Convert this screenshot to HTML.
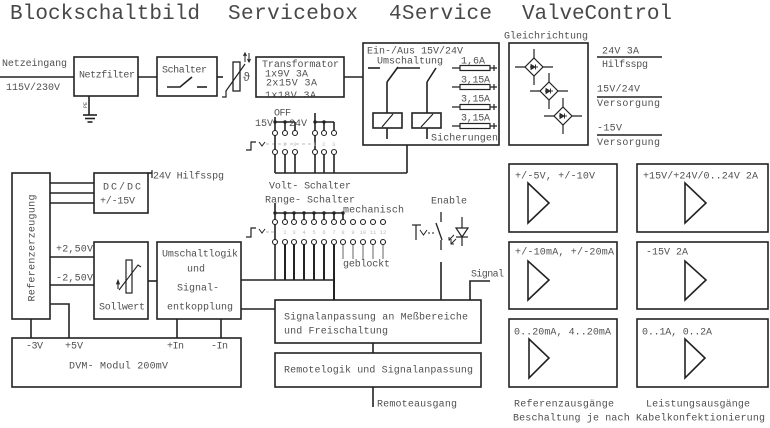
<!DOCTYPE html>
<html><head><meta charset="utf-8"><style>
html,body{margin:0;padding:0;background:#fff;width:770px;height:428px;overflow:hidden}
svg{display:block}
text{font-family:"Liberation Mono",monospace;font-size:10px;fill:#505050}
.t{font-size:21px;fill:#484848}
.f{font-size:5.5px;fill:#bbb}
</style></head><body>
<svg width="770" height="428" viewBox="0 0 770 428" xmlns="http://www.w3.org/2000/svg">
<defs><clipPath id="cl"><rect x="256" y="57" width="88" height="39.5"/></clipPath></defs>

<!-- Title -->
<text class="t" x="10" y="19" textLength="190">Blockschaltbild</text>
<text class="t" x="228" y="19" textLength="130">Servicebox</text>
<text class="t" x="389" y="19" textLength="103">4Service</text>
<text class="t" x="522" y="19" textLength="150">ValveControl</text>

<g stroke="#222" stroke-width="1.6" fill="none">
<!-- top chain -->
<line x1="0" y1="77" x2="74" y2="77"/>
<rect x="74" y="57" width="64" height="39"/>
<line x1="89" y1="96" x2="89" y2="115"/>
<line x1="83" y1="115" x2="97" y2="115"/>
<line x1="85" y1="118.5" x2="95" y2="118.5"/>
<line x1="87.5" y1="122" x2="92.5" y2="122"/>
<line x1="138" y1="77" x2="157" y2="77"/>
<rect x="157" y="57" width="60" height="39"/>
<polyline points="167,87 180,87 192,77"/>
<line x1="197" y1="87" x2="207" y2="87"/>
<line x1="217" y1="77" x2="223" y2="77"/>
<!-- varistor -->
<rect x="233" y="62" width="7" height="29" stroke-width="1.3"/>
<polyline points="222,97 226,97 226,91 245,64" stroke-width="1.2"/>
<line x1="245" y1="62" x2="245" y2="53" stroke-width="1"/>
<polyline points="243.5,56 245,53 246.5,56" stroke-width="1"/>
<line x1="249" y1="53" x2="249" y2="62" stroke-width="1"/>
<polyline points="247.5,59 249,62 250.5,59" stroke-width="1"/>
<!-- transformer -->
<rect x="256" y="57" width="88" height="40"/>
<line x1="344" y1="77" x2="363" y2="77"/>
<!-- Ein/Aus box -->
<rect x="363" y="43" width="136" height="102"/>
<line x1="368" y1="68" x2="380" y2="68"/>
<line x1="387" y1="82" x2="398" y2="67"/>
<line x1="397" y1="68" x2="420" y2="68"/>
<line x1="427" y1="82" x2="436" y2="68"/>
<line x1="387" y1="82" x2="387" y2="113"/>
<line x1="387" y1="128" x2="387" y2="139"/>
<line x1="427" y1="82" x2="427" y2="113"/>
<line x1="427" y1="128" x2="427" y2="139"/>
<rect x="373" y="113" width="29" height="15"/>
<rect x="412" y="113" width="29" height="15"/>
<line x1="382" y1="127" x2="393" y2="114" stroke-width="1.2"/>
<line x1="421" y1="127" x2="433" y2="114" stroke-width="1.2"/>
<!-- fuses -->
<g stroke-width="1.2">
<line x1="452" y1="68" x2="497" y2="68"/><rect x="460" y="65.5" width="30" height="5" fill="#fff"/><line x1="494" y1="65" x2="494" y2="71"/>
<line x1="452" y1="87" x2="497" y2="87"/><rect x="460" y="84.5" width="30" height="5" fill="#fff"/><line x1="494" y1="84" x2="494" y2="90"/>
<line x1="452" y1="107" x2="497" y2="107"/><rect x="460" y="104.5" width="30" height="5" fill="#fff"/><line x1="494" y1="104" x2="494" y2="110"/>
<line x1="452" y1="126" x2="497" y2="126"/><rect x="460" y="123.5" width="30" height="5" fill="#fff"/><line x1="494" y1="123" x2="494" y2="129"/>
</g>
<line x1="407" y1="145" x2="407" y2="173"/>
<line x1="275" y1="173" x2="407" y2="173"/>
<!-- Gleichrichtung -->
<rect x="509" y="43" width="79" height="102"/>
<g stroke-width="1.2">
<line x1="515" y1="67" x2="553" y2="67"/><line x1="534" y1="49" x2="534" y2="85"/>
<polygon points="534,58 543,67 534,76 525,67" fill="#fff"/>
<line x1="530" y1="91" x2="568" y2="91"/><line x1="549" y1="73" x2="549" y2="109"/>
<polygon points="549,82 558,91 549,100 540,91" fill="#fff"/>
<line x1="544" y1="116" x2="582" y2="116"/><line x1="563" y1="98" x2="563" y2="134"/>
<polygon points="563,107 572,116 563,125 554,116" fill="#fff"/>
</g>
<g stroke-width="0.9">
<line x1="530" y1="67" x2="538" y2="67"/><polygon points="531,64.5 531,69.5 535,67" fill="#333"/><line x1="535.5" y1="64.5" x2="535.5" y2="69.5"/>
<line x1="545" y1="91" x2="553" y2="91"/><polygon points="546,88.5 546,93.5 550,91" fill="#333"/><line x1="550.5" y1="88.5" x2="550.5" y2="93.5"/>
<line x1="559" y1="116" x2="567" y2="116"/><polygon points="560,113.5 560,118.5 564,116" fill="#333"/><line x1="564.5" y1="113.5" x2="564.5" y2="118.5"/>
</g>
<line x1="597" y1="57" x2="662" y2="57"/>
<line x1="597" y1="97" x2="662" y2="97"/>
<line x1="597" y1="135" x2="662" y2="135"/>

<!-- left middle -->
<rect x="12" y="173" width="38" height="146"/>
<rect x="94" y="173" width="54" height="40"/>
<line x1="50" y1="183" x2="94" y2="183"/>
<line x1="50" y1="193" x2="94" y2="193"/>
<line x1="50" y1="203" x2="94" y2="203"/>
<line x1="148" y1="173" x2="152" y2="173"/>
<line x1="152" y1="170" x2="152" y2="178" stroke-width="1.2"/>
<rect x="94" y="242" width="54" height="77"/>
<line x1="50" y1="257" x2="94" y2="257"/>
<line x1="50" y1="285" x2="94" y2="285"/>
<rect x="126" y="260" width="6" height="33" stroke-width="1.2"/>
<polyline points="119,290 138,265 141,267" stroke-width="1.1"/>
<line x1="118" y1="289" x2="118" y2="282" stroke-width="1.1"/>
<polygon points="116.5,284 118,280 119.5,284" fill="#333" stroke-width="0.8"/>
<rect x="157" y="242" width="84" height="77"/>
<line x1="148" y1="281" x2="157" y2="281"/>
<line x1="241" y1="280" x2="334" y2="280"/>
<line x1="241" y1="309" x2="275" y2="309"/>
<line x1="31" y1="319" x2="31" y2="338"/>
<polyline points="50,304 69,304 69,338"/>
<line x1="177" y1="319" x2="177" y2="338"/>
<line x1="221" y1="319" x2="221" y2="338"/>
<rect x="12" y="338" width="229" height="49"/>

<!-- Volt switch -->
<polyline points="246,150 251,150 251,142 256,142" stroke-width="1.2"/>
<polyline points="259,142 262,146 265,142" stroke-width="1"/>
<line x1="266" y1="144" x2="314" y2="144" stroke="#bbb" stroke-width="1" stroke-dasharray="3,3"/>
<line x1="275" y1="117" x2="275" y2="173"/>
<line x1="315" y1="113" x2="315" y2="173"/>
<line x1="275" y1="122" x2="295" y2="122"/>
<line x1="315" y1="122" x2="334" y2="122"/>
<line x1="285" y1="122" x2="285" y2="131"/>
<line x1="295" y1="122" x2="295" y2="131"/>
<line x1="324" y1="122" x2="324" y2="131"/>
<line x1="334" y1="122" x2="334" y2="131"/>
<line x1="285" y1="154" x2="285" y2="173"/>
<line x1="295" y1="154" x2="295" y2="173"/>
<line x1="324" y1="154" x2="324" y2="173"/>
<line x1="334" y1="154" x2="334" y2="173"/>
<g stroke-width="1.1" fill="#fff">
<circle cx="275" cy="133" r="2.5"/><circle cx="285" cy="133" r="2.5"/><circle cx="295" cy="133" r="2.5"/>
<circle cx="315" cy="133" r="2.5"/><circle cx="324" cy="133" r="2.5"/><circle cx="334" cy="133" r="2.5"/>
<circle cx="275" cy="152" r="2.5"/><circle cx="285" cy="152" r="2.5"/><circle cx="295" cy="152" r="2.5"/>
<circle cx="315" cy="152" r="2.5"/><circle cx="324" cy="152" r="2.5"/><circle cx="334" cy="152" r="2.5"/>
</g>
<g fill="#222" stroke="none">
<circle cx="275" cy="122" r="1.7"/><circle cx="285" cy="122" r="1.7"/>
<circle cx="315" cy="122" r="1.7"/><circle cx="324" cy="122" r="1.7"/>
</g>

<!-- Range switch -->
<polyline points="246,237 251,237 251,228 256,228" stroke-width="1.2"/>
<polyline points="259,229 262,233 265,229" stroke-width="1"/>
<line x1="266" y1="232" x2="274" y2="232" stroke="#bbb" stroke-width="1" stroke-dasharray="3,2"/>
<line x1="275" y1="203" x2="275" y2="280"/>
<line x1="275" y1="213" x2="343" y2="213"/>
<g>
<line x1="285" y1="213" x2="285" y2="220"/><line x1="294" y1="213" x2="294" y2="220"/>
<line x1="304" y1="213" x2="304" y2="220"/><line x1="314" y1="213" x2="314" y2="220"/>
<line x1="324" y1="213" x2="324" y2="220"/><line x1="334" y1="213" x2="334" y2="220"/>
<line x1="343" y1="213" x2="343" y2="220"/>
</g>
<g stroke-width="2">
<line x1="285" y1="244" x2="285" y2="280"/><line x1="294" y1="244" x2="294" y2="280"/>
<line x1="304" y1="244" x2="304" y2="280"/><line x1="314" y1="244" x2="314" y2="280"/>
<line x1="324" y1="244" x2="324" y2="280"/><line x1="334" y1="244" x2="334" y2="300"/>
</g>
<g stroke="#666" stroke-width="1">
<line x1="343" y1="244" x2="343" y2="259"/><line x1="353" y1="244" x2="353" y2="259"/>
<line x1="363" y1="244" x2="363" y2="259"/><line x1="373" y1="244" x2="373" y2="259"/>
<line x1="383" y1="244" x2="383" y2="259"/>
</g>
<g stroke-width="1.1" fill="#fff">
<circle cx="275" cy="222" r="2.5"/><circle cx="285" cy="222" r="2.5"/><circle cx="294" cy="222" r="2.5"/><circle cx="304" cy="222" r="2.5"/>
<circle cx="314" cy="222" r="2.5"/><circle cx="324" cy="222" r="2.5"/><circle cx="334" cy="222" r="2.5"/><circle cx="343" cy="222" r="2.5"/>
<circle cx="353" cy="222" r="2.5"/><circle cx="363" cy="222" r="2.5"/><circle cx="373" cy="222" r="2.5"/><circle cx="383" cy="222" r="2.5"/>
<circle cx="275" cy="242" r="2.5"/><circle cx="285" cy="242" r="2.5"/><circle cx="294" cy="242" r="2.5"/><circle cx="304" cy="242" r="2.5"/>
<circle cx="314" cy="242" r="2.5"/><circle cx="324" cy="242" r="2.5"/><circle cx="334" cy="242" r="2.5"/><circle cx="343" cy="242" r="2.5"/>
<circle cx="353" cy="242" r="2.5"/><circle cx="363" cy="242" r="2.5"/><circle cx="373" cy="242" r="2.5"/><circle cx="383" cy="242" r="2.5"/>
</g>
<g fill="#222" stroke="none">
<circle cx="275" cy="213" r="1.7"/><circle cx="285" cy="213" r="1.7"/><circle cx="294" cy="213" r="1.7"/><circle cx="304" cy="213" r="1.7"/>
<circle cx="314" cy="213" r="1.7"/><circle cx="324" cy="213" r="1.7"/><circle cx="334" cy="213" r="1.7"/><circle cx="343" cy="213" r="1.7"/>
</g>

<!-- Enable -->
<line x1="441" y1="212" x2="441" y2="222" stroke-width="1.3"/>
<line x1="436" y1="223" x2="442" y2="240" stroke-width="1.3"/>
<line x1="441" y1="240" x2="441" y2="250" stroke-width="1.3"/>
<line x1="441" y1="262" x2="441" y2="300"/>
<line x1="412" y1="225" x2="421" y2="225" stroke-width="1.2"/>
<line x1="416" y1="225" x2="416" y2="240" stroke-width="1.2"/>
<polyline points="420,230 423.5,235 427,230" stroke-width="1"/>
<line x1="428" y1="233" x2="436" y2="233" stroke-width="1" stroke-dasharray="2,2"/>
<line x1="462" y1="217" x2="462" y2="246" stroke-width="1.2"/>
<polygon points="456,228 468,228 462,237" fill="#fff" stroke-width="1.2"/>
<line x1="456" y1="237" x2="468" y2="237" stroke-width="1.2"/>
<g stroke-width="1">
<line x1="454" y1="235" x2="449" y2="240"/><polyline points="449,237 449,240 452,240"/>
<line x1="456" y1="239" x2="451" y2="244"/><polyline points="451,241 451,244 454,244"/>
</g>
<!-- Signal -->
<polyline points="470,300 470,281 490,281"/>
<!-- Signalanpassung / Remote -->
<rect x="275" y="300" width="206" height="43"/>
<rect x="275" y="353" width="206" height="34"/>
<line x1="373" y1="343" x2="373" y2="353"/>
<line x1="373" y1="387" x2="373" y2="407"/>

<!-- Output boxes -->
<rect x="509" y="164" width="108" height="68"/>
<rect x="637" y="164" width="131" height="68"/>
<rect x="509" y="242" width="108" height="67"/>
<rect x="637" y="242" width="131" height="67"/>
<rect x="509" y="319" width="108" height="68"/>
<rect x="637" y="319" width="131" height="68"/>
<polygon points="528,183 528,223 549,203"/>
<polygon points="685,183 685,223 706,203"/>
<polygon points="528,261 528,300 549,280"/>
<polygon points="685,261 685,300 706,280"/>
<polygon points="529,339 529,378 549,358"/>
<polygon points="685,339 685,378 705,358"/>
</g>

<!-- Texts -->
<text x="2" y="66" textLength="65">Netzeingang</text>
<text x="6" y="90" textLength="54">115V/230V</text>
<text x="79" y="77.5" textLength="56">Netzfilter</text>
<text x="162" y="72.5" textLength="45">Schalter</text>
<text x="243" y="81" style="font-size:12px">ϑ</text>
<text x="81" y="110" style="font-size:5px" transform="rotate(-90 83 106)">PE</text>
<text x="262" y="67" textLength="77">Transformator</text>
<text x="265" y="76.5" textLength="43">1x9V 3A</text>
<text x="266" y="85.5" textLength="51">2x15V 3A</text>
<text x="265" y="98" textLength="51" clip-path="url(#cl)">1x18V 3A</text>
<text x="367" y="53.5" textLength="96">Ein-/Aus 15V/24V</text>
<text x="377" y="63.5" textLength="66">Umschaltung</text>
<text x="461" y="63.5" textLength="24">1,6A</text>
<text x="461" y="82.5" textLength="29">3,15A</text>
<text x="461" y="101.5" textLength="29">3,15A</text>
<text x="461" y="120.5" textLength="29">3,15A</text>
<text x="431" y="140.5" textLength="67">Sicherungen</text>
<text x="504" y="38.5" textLength="84">Gleichrichtung</text>
<text x="602" y="53.5" textLength="37">24V 3A</text>
<text x="602" y="67" textLength="46">Hilfsspg</text>
<text x="597" y="91.5" textLength="43">15V/24V</text>
<text x="597" y="106" textLength="63">Versorgung</text>
<text x="597" y="130.5" textLength="25">-15V</text>
<text x="597" y="145" textLength="63">Versorgung</text>

<text x="153" y="178.5" textLength="71">24V Hilfsspg</text>
<text x="103" y="189.5" textLength="38">DC/DC</text>
<text x="100" y="203.5" textLength="35">+/-15V</text>
<text transform="translate(34.5,248) rotate(-90)" text-anchor="middle" textLength="107">Referenzerzeugung</text>
<text x="56" y="251.5" textLength="37">+2,50V</text>
<text x="56" y="280.5" textLength="37">-2,50V</text>
<text x="99" y="309.5" textLength="46">Sollwert</text>
<text x="162" y="256.5" textLength="76">Umschaltlogik</text>
<text x="187" y="271.5" textLength="18">und</text>
<text x="177" y="290.5" textLength="42">Signal-</text>
<text x="167" y="309.5" textLength="66">entkopplung</text>
<text x="26" y="348.5" textLength="17">-3V</text>
<text x="65" y="348.5" textLength="18">+5V</text>
<text x="167" y="348.5" textLength="17">+In</text>
<text x="211" y="348.5" textLength="17">-In</text>
<text x="69" y="368.5" textLength="99">DVM- Modul 200mV</text>

<text x="274" y="115.5" textLength="17">OFF</text>
<text x="255" y="126" textLength="18">15V</text>
<text x="289" y="126" textLength="18">24V</text>
<text class="f" x="283" y="146">2</text><text class="f" x="293" y="146">3</text>
<text class="f" x="313" y="146">1</text><text class="f" x="322" y="146">2</text><text class="f" x="332" y="146">3</text>
<text x="269" y="188.5" textLength="82">Volt- Schalter</text>
<text x="265" y="202.5" textLength="90">Range- Schalter</text>
<text x="343" y="212.5" textLength="61">mechanisch</text>
<g class="f" text-anchor="middle">
<text class="f" x="285" y="234">2</text><text class="f" x="294" y="234">3</text><text class="f" x="304" y="234">4</text>
<text class="f" x="314" y="234">5</text><text class="f" x="324" y="234">6</text><text class="f" x="334" y="234">7</text>
<text class="f" x="343" y="234">8</text><text class="f" x="353" y="234">9</text><text class="f" x="363" y="234">10</text>
<text class="f" x="373" y="234">11</text><text class="f" x="383" y="234">12</text>
</g>
<text x="343" y="266.5" textLength="47">geblockt</text>
<text x="431" y="203.5" textLength="36">Enable</text>
<text x="471" y="276.5" textLength="33">Signal</text>
<text x="284" y="319.5" textLength="184">Signalanpassung an Meßbereiche</text>
<text x="284" y="333.5" textLength="104">und Freischaltung</text>
<text x="284" y="372.5" textLength="189">Remotelogik und Signalanpassung</text>
<text x="377" y="406.5" textLength="80">Remoteausgang</text>

<text x="515" y="178.5" textLength="80">+/-5V, +/-10V</text>
<text x="643" y="178.5" textLength="115">+15V/+24V/0..24V 2A</text>
<text x="515" y="254.5" textLength="99">+/-10mA, +/-20mA</text>
<text x="646" y="254.5">-15V 2A</text>
<text x="514" y="334.5" textLength="97">0..20mA, 4..20mA</text>
<text x="642" y="334.5" textLength="70">0..1A, 0..2A</text>
<text x="514" y="406.5" textLength="100">Referenzausgänge</text>
<text x="646" y="406.5" textLength="104">Leistungsausgänge</text>
<text x="513" y="420.5" textLength="252">Beschaltung je nach Kabelkonfektionierung</text>
</svg>
</body></html>
